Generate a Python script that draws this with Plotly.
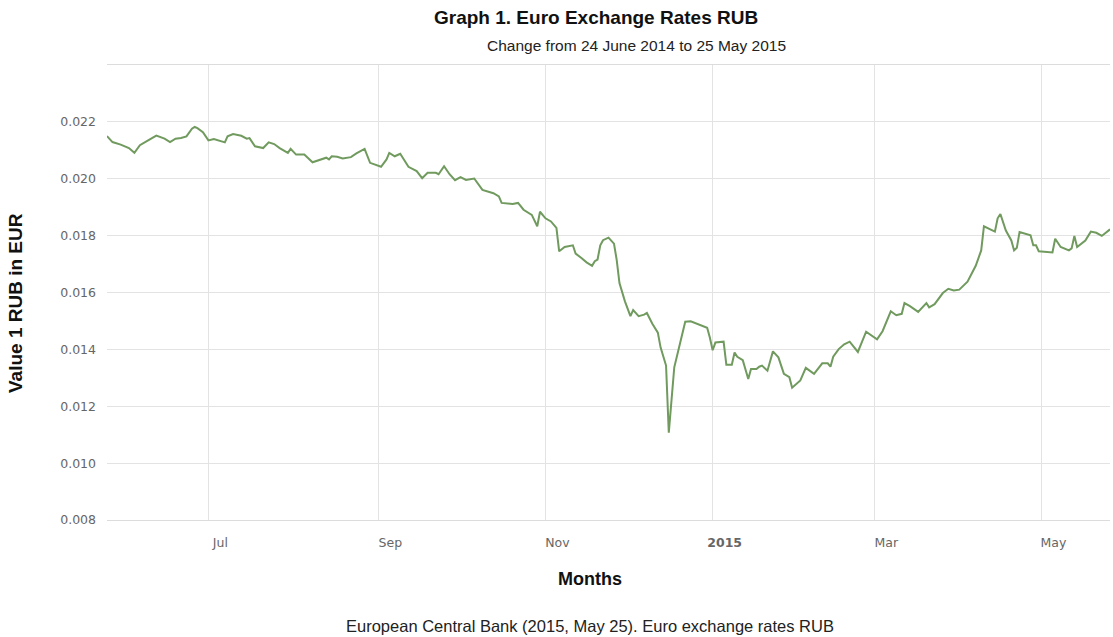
import plotly.graph_objects as go

dates = [
    "2014-05-25", "2014-05-27", "2014-05-30", "2014-06-02", "2014-06-04", "2014-06-06",
    "2014-06-09", "2014-06-11", "2014-06-12", "2014-06-15", "2014-06-17", "2014-06-19",
    "2014-06-21", "2014-06-23", "2014-06-25", "2014-06-26", "2014-06-27", "2014-06-29",
    "2014-07-01", "2014-07-03", "2014-07-05", "2014-07-07", "2014-07-08", "2014-07-10",
    "2014-07-13", "2014-07-15", "2014-07-16", "2014-07-18", "2014-07-21", "2014-07-23",
    "2014-07-25", "2014-07-27", "2014-07-30", "2014-07-31", "2014-08-02", "2014-08-05",
    "2014-08-08", "2014-08-10", "2014-08-13", "2014-08-14", "2014-08-15", "2014-08-17",
    "2014-08-19", "2014-08-22", "2014-08-24", "2014-08-27", "2014-08-29", "2014-09-02",
    "2014-09-04", "2014-09-05", "2014-09-07", "2014-09-09", "2014-09-12", "2014-09-15",
    "2014-09-17", "2014-09-19", "2014-09-22", "2014-09-23", "2014-09-25", "2014-09-27",
    "2014-09-29", "2014-10-01", "2014-10-03", "2014-10-06", "2014-10-09", "2014-10-13",
    "2014-10-15", "2014-10-16", "2014-10-20", "2014-10-22", "2014-10-24", "2014-10-27",
    "2014-10-29", "2014-10-30", "2014-11-01", "2014-11-03", "2014-11-05", "2014-11-06",
    "2014-11-08", "2014-11-11", "2014-11-12", "2014-11-14", "2014-11-16", "2014-11-18",
    "2014-11-19", "2014-11-20", "2014-11-21", "2014-11-22", "2014-11-24", "2014-11-26",
    "2014-11-27", "2014-11-28", "2014-11-30", "2014-12-02", "2014-12-03", "2014-12-05",
    "2014-12-07", "2014-12-08", "2014-12-10", "2014-12-12", "2014-12-13", "2014-12-15",
    "2014-12-16", "2014-12-18", "2014-12-20", "2014-12-22", "2014-12-24", "2014-12-27",
    "2014-12-30", "2014-12-31", "2015-01-01", "2015-01-02", "2015-01-05", "2015-01-06",
    "2015-01-08", "2015-01-09", "2015-01-10", "2015-01-12", "2015-01-14", "2015-01-15",
    "2015-01-17", "2015-01-18", "2015-01-19", "2015-01-21", "2015-01-23", "2015-01-25",
    "2015-01-27", "2015-01-29", "2015-01-30", "2015-02-02", "2015-02-04", "2015-02-07",
    "2015-02-10", "2015-02-12", "2015-02-13", "2015-02-14", "2015-02-16", "2015-02-18",
    "2015-02-20", "2015-02-23", "2015-02-26", "2015-03-02", "2015-03-04", "2015-03-07",
    "2015-03-09", "2015-03-11", "2015-03-12", "2015-03-14", "2015-03-17", "2015-03-20",
    "2015-03-21", "2015-03-23", "2015-03-26", "2015-03-28", "2015-03-30", "2015-04-01",
    "2015-04-04", "2015-04-07", "2015-04-09", "2015-04-10", "2015-04-12", "2015-04-14",
    "2015-04-15", "2015-04-16", "2015-04-18", "2015-04-20", "2015-04-21", "2015-04-22",
    "2015-04-23", "2015-04-27", "2015-04-28", "2015-04-29", "2015-04-30", "2015-05-05",
    "2015-05-06", "2015-05-08", "2015-05-11", "2015-05-12", "2015-05-13", "2015-05-14",
    "2015-05-17", "2015-05-19", "2015-05-21", "2015-05-23", "2015-05-26",
]

rates = [
    0.02150, 0.02129, 0.02120, 0.02108, 0.02091, 0.02118,
    0.02135, 0.02147, 0.02152, 0.02141, 0.02129, 0.02141,
    0.02143, 0.02149, 0.02176, 0.02182, 0.02178, 0.02164,
    0.02135, 0.02140, 0.02135, 0.02128, 0.02149, 0.02157,
    0.02151, 0.02141, 0.02143, 0.02114, 0.02108, 0.02128,
    0.02122, 0.02108, 0.02091, 0.02105, 0.02085, 0.02085,
    0.02058, 0.02065, 0.02074, 0.02068, 0.02079, 0.02077,
    0.02071, 0.02076, 0.02089, 0.02105, 0.02056, 0.02042,
    0.02068, 0.02091, 0.02079, 0.02088, 0.02042, 0.02027,
    0.02002, 0.02021, 0.02021, 0.02016, 0.02044, 0.02016,
    0.01995, 0.02006, 0.01996, 0.02001, 0.01961, 0.01949,
    0.01938, 0.01915, 0.01911, 0.01915, 0.01891, 0.01873,
    0.01833, 0.01884, 0.01861, 0.01850, 0.01827, 0.01745,
    0.01760, 0.01766, 0.01737, 0.01722, 0.01706, 0.01694,
    0.01710, 0.01716, 0.01766, 0.01784, 0.01793, 0.01772,
    0.01714, 0.01633, 0.01569, 0.01517, 0.01538, 0.01517,
    0.01522, 0.01528, 0.01490, 0.01459, 0.01407, 0.01343,
    0.01107, 0.01337, 0.01412, 0.01497, 0.01499, 0.01488,
    0.01476, 0.01441, 0.01397, 0.01424, 0.01427, 0.01346,
    0.01346, 0.01389, 0.01374, 0.01362, 0.01296, 0.01331,
    0.01331, 0.01339, 0.01343, 0.01325, 0.01393, 0.01372,
    0.01314, 0.01302, 0.01265, 0.01291, 0.01335, 0.01314,
    0.01351, 0.01351, 0.01339, 0.01374, 0.01401, 0.01418,
    0.01427, 0.01391, 0.01462, 0.01435, 0.01464, 0.01534,
    0.01520, 0.01525, 0.01563, 0.01552, 0.01532, 0.01563,
    0.01548, 0.01559, 0.01598, 0.01613, 0.01607, 0.01610,
    0.01638, 0.01694, 0.01748, 0.01833, 0.01824, 0.01814,
    0.01861, 0.01876, 0.01818, 0.01783, 0.01748, 0.01757,
    0.01813, 0.01801, 0.01766, 0.01766, 0.01745, 0.01741,
    0.01789, 0.01760, 0.01748, 0.01755, 0.01799, 0.01760,
    0.01783, 0.01814, 0.01810, 0.01799, 0.01822,
]

month_ticks = ["2014-07-01", "2014-09-01", "2014-11-01", "2015-01-01", "2015-03-01", "2015-05-01"]
month_labels = ["Jul", "Sep", "Nov", "<b>2015</b>", "Mar", "May"]
y_ticks = [0.008, 0.010, 0.012, 0.014, 0.016, 0.018, 0.020, 0.022, 0.024]
y_labels = ["0.008", "0.010", "0.012", "0.014", "0.016", "0.018", "0.020", "0.022", ""]

title_text = "Graph 1. Euro Exchange Rates RUB"
subtitle_text = "Change from 24 June 2014 to 25 May 2015"
x_title = "Months"
y_title = "Value 1 RUB in EUR"
source_text = "European Central Bank (2015, May 25). Euro exchange rates RUB"

fig = go.Figure()
fig.add_trace(go.Scatter(
    x=dates, y=rates, mode="lines",
    line=dict(color="#709a5e", width=2),
    showlegend=False,
))

W, H = 1113, 637
L, R, T, B = 107, 3, 65, 117
pw, ph = W - L - R, H - T - B

def px(x):
    return (x - L) / pw

def py(y):
    return (H - B - y) / ph

title_font = "Liberation Sans, Arial, sans-serif"
tick_font = dict(family="DejaVu Sans, Verdana, sans-serif", size=12.5, color="#666666")
grid_color = "#e3e3e3"

fig.update_layout(
    width=W, height=H,
    margin=dict(l=L, r=R, t=T, b=B),
    paper_bgcolor="white", plot_bgcolor="white",
    xaxis=dict(
        type="date",
        range=["2014-05-25", "2015-05-26"],
        tickvals=month_ticks, ticktext=month_labels,
        showgrid=True, gridcolor=grid_color, gridwidth=1,
        zeroline=False, showline=True, mirror=True, linecolor="#dcdcdc", linewidth=1,
        ticks="", automargin=False,
        tickfont=tick_font, ticklabelshift=12, ticklabelstandoff=11,
    ),
    yaxis=dict(
        range=[0.008, 0.024],
        tickvals=y_ticks, ticktext=y_labels,
        showgrid=True, gridcolor=grid_color, gridwidth=1,
        zeroline=False, showline=False, ticks="", automargin=False,
        tickfont=tick_font, ticklabelstandoff=10,
    ),
    annotations=[
        dict(text="<b>" + title_text + "</b>", x=px(596), y=py(18), xref="paper", yref="paper",
             xanchor="center", yanchor="middle", showarrow=False,
             font=dict(family=title_font, size=19, color="#111111")),
        dict(text=subtitle_text, x=px(636), y=py(46), xref="paper", yref="paper",
             xanchor="center", yanchor="middle", showarrow=False,
             font=dict(family=title_font, size=15.5, color="#222222")),
        dict(text="<b>" + y_title + "</b>", x=px(15), y=py(303), xref="paper", yref="paper",
             xanchor="center", yanchor="middle", showarrow=False, textangle=-90,
             font=dict(family=title_font, size=19, color="#111111")),
        dict(text="<b>" + x_title + "</b>", x=px(590), y=py(579), xref="paper", yref="paper",
             xanchor="center", yanchor="middle", showarrow=False,
             font=dict(family=title_font, size=18, color="#111111")),
        dict(text=source_text, x=px(590), y=py(626), xref="paper", yref="paper",
             xanchor="center", yanchor="middle", showarrow=False,
             font=dict(family=title_font, size=16.5, color="#222222")),
    ],
)

fig.write_html(
    "out.html",
    config={"displayModeBar": False},
    post_script="document.body.style.margin='0';document.body.style.overflow='hidden';",
)
